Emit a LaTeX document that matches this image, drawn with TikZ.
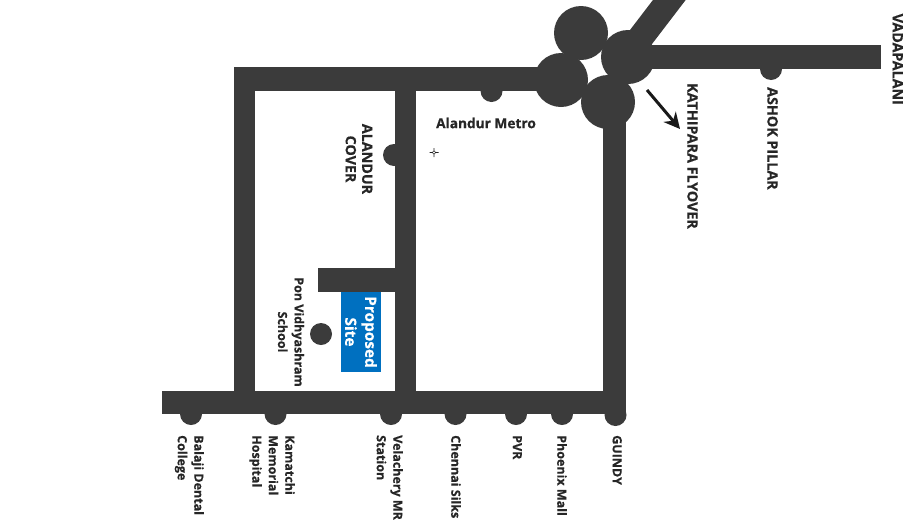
\documentclass[tikz,border=0pt]{standalone}
\usepackage{fontspec}
\setmainfont[FakeBold=0.5]{Open Sans}
\usepackage{tikz}
\usetikzlibrary{arrows.meta}
\definecolor{roadgrey}{HTML}{3B3B3B}
\definecolor{siteblue}{HTML}{0070C0}
\tikzset{
  road/.style={fill=roadgrey},
  maplabel/.style={rotate=-90, inner sep=0pt, text=black!85, font=\fontsize{12.5}{16.5}\selectfont\bfseries},
  caplabel/.style={maplabel, font=\fontsize{14.3}{16.5}\selectfont\bfseries},
}
\begin{document}
\begin{tikzpicture}[x=1pt, y=-1pt]
    \useasboundingbox (0,0) rectangle (920,520);

    % Roads
    \fill[road] (234,67) rectangle (560,91);
    \fill[road] (234,67) rectangle (255,414);
    \fill[road] (162,391) rectangle (626,414);
    \fill[road] (395,80) rectangle (416,414);
    \fill[road] (603,100) rectangle (626,414);
    \fill[road] (318,268) rectangle (395,292);
    \fill[road] (628,44.5) rectangle (881,69);
    \draw[roadgrey, line width=26pt] (628,54) -- (680,-14);

    % Junction
    \foreach \cx/\cy in {581/33, 628/57, 561/80, 608/102}
      \fill[road] (\cx,\cy) circle[radius=27pt];

    % Stops
    \foreach \cx/\cy in {771/69, 491.5/91, 394/155, 321/334, 191/414, 275.5/414, 391/414, 455.5/414, 516/414, 562/414, 615.5/415}
      \fill[road] (\cx,\cy) circle[radius=11pt];

    % Proposed Site
    \fill[siteblue] (341,292) rectangle (381,372);
    \node[maplabel, text=white, align=center, font=\fontsize{15.4}{20}\selectfont\bfseries] (site) at (361,332) {Proposed\\Site};

    % Arrow
    \coordinate (arrowstart) at (647,90);
    \coordinate (arrowend) at (680,129);
    \draw[-{Stealth[length=16pt, width=16pt]}, line width=3pt, black!90] (arrowstart) -- (arrowend);

    % Cursor mark
    \draw[black!85, line width=0.6pt] (434,152.5) circle[radius=1.8pt]
      (429.5,152.5) -- (432.2,152.5) (435.8,152.5) -- (438.5,152.5)
      (434,148) -- (434,150.7) (434,154.3) -- (434,157);

    % Top labels
    \node[caplabel, anchor=north west] (vadapalani) at (903,13.5) {VADAPALANI};
    \node[caplabel, anchor=north west] (ashok) at (778,87) {ASHOK PILLAR};
    \node[caplabel, anchor=north west] (kathipara) at (698,83) {KATHIPARA FLYOVER};
    \node[maplabel, rotate=90, anchor=center, font=\fontsize{13.7}{16.5}\selectfont\bfseries] (metro) at (486,123) {Alandur Metro};
    \node[caplabel, align=center] (cover) at (359,159) {ALANDUR\\COVER};
    \node[maplabel, align=center] (school) at (291,332) {Pon Vidhyashram\\School};

    % Bottom labels
    \node[maplabel, anchor=north west, align=left] (balaji) at (204,435) {Balaji Dental\\College};
    \node[maplabel, anchor=north west, align=left] (kamatchi) at (295,435) {Kamatchi\\Memorial\\Hospital};
    \node[maplabel, anchor=north west, align=left] (velachery) at (403,435) {Velachery MR\\Station};
    \node[maplabel, anchor=north west] (chennai) at (461,435) {Chennai Silks};
    \node[maplabel, anchor=north west] (pvr) at (522,435) {PVR};
    \node[maplabel, anchor=north west] (phoenix) at (567,435) {Phoenix Mall};
    \node[maplabel, anchor=north west] (guindy) at (622,435) {GUINDY};
\end{tikzpicture}
\end{document}
